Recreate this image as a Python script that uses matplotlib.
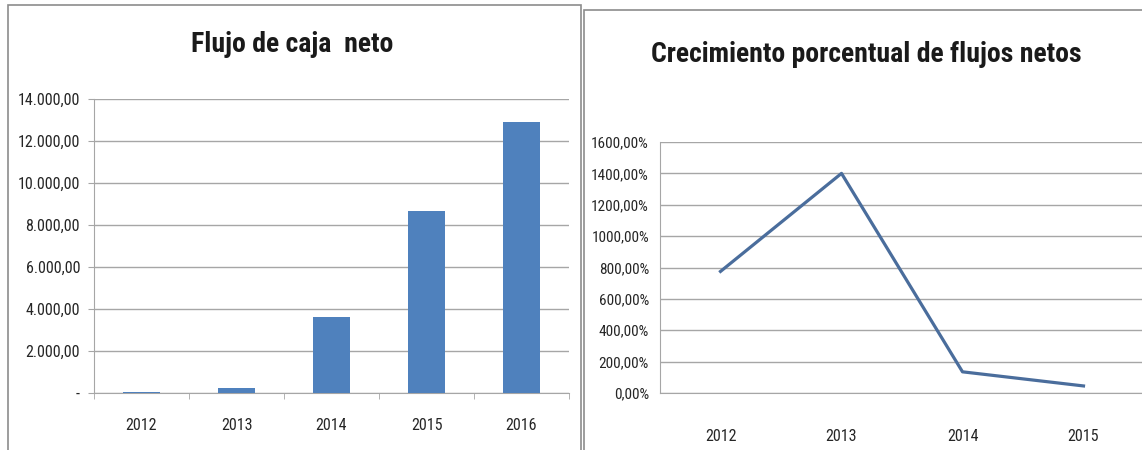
import matplotlib
matplotlib.use("Agg")
import matplotlib.pyplot as plt
from matplotlib import font_manager
from matplotlib.patches import Rectangle
from matplotlib.ticker import FuncFormatter, FixedLocator

# datos
years_flujo = ['2012', '2013', '2014', '2015', '2016']
flujo_neto = [27, 241, 3620, 8670, 12900]

years_crec = ['2012', '2013', '2014', '2015']
crecimiento = [775, 1400, 135, 45]

bar_color = '#4f81bd'
line_color = '#4a6d9c'
grid_color = '#a6a6a6'
text_color = '#262626'

# fuente estrecha tipo Arial Narrow si existe
available = set(f.name for f in font_manager.fontManager.ttflist)
narrow = [n for n in ['Liberation Sans Narrow', 'Roboto Condensed', 'Archivo Narrow',
                      'PT Sans Narrow', 'Open Sans Condensed', 'Asap Condensed']
          if n in available]
font = narrow[:1] + ['DejaVu Sans']
plt.rcParams['font.family'] = font

W, H = 1142, 450
fig = plt.figure(figsize=(W / 100, H / 100), dpi=100)

def px(x0, y0, x1, y1):
    # caja en pixeles (origen arriba-izquierda) -> fraccion de figura
    return [x0 / W, 1 - y1 / H, (x1 - x0) / W, (y1 - y0) / H]

# marcos de los dos paneles
fig.patches.append(Rectangle((8 / W, -0.1), (581 - 8) / W, 1.1 - 5 / H,
                             transform=fig.transFigure, fill=False,
                             edgecolor='#8c8c8c', lw=1.2))
fig.patches.append(Rectangle((584 / W, -0.1), 0.6, 1.1 - 10 / H,
                             transform=fig.transFigure, fill=False,
                             edgecolor='#8c8c8c', lw=1.2))

def thousands(v, pos):
    if v == 0:
        return '-'
    s = '{:,.2f}'.format(v)
    return s.replace(',', 'X').replace('.', ',').replace('X', '.')

def percent(v, pos):
    return '{:.2f}%'.format(v).replace('.', ',')

# ---- Flujo de caja neto ----
ax1 = fig.add_axes(px(94, 99, 569, 393))
x1 = range(len(years_flujo))
ax1.bar(x1, flujo_neto, width=0.39, color=bar_color, zorder=3)
ax1.set_xlim(-0.5, len(years_flujo) - 0.5)
ax1.set_ylim(0, 14000)
ax1.set_yticks(range(0, 14001, 2000))
ax1.yaxis.set_major_formatter(FuncFormatter(thousands))
ax1.set_xticks(list(x1))
ax1.set_xticklabels(years_flujo)
ax1.xaxis.set_minor_locator(FixedLocator([i - 0.5 for i in range(len(years_flujo) + 1)]))
ax1.tick_params(axis='x', which='major', length=0, pad=18, labelsize=11.5, colors=text_color)
ax1.tick_params(axis='x', which='minor', length=4, color=grid_color)
ax1.tick_params(axis='y', length=4, color=grid_color, pad=6, labelsize=11.5, labelcolor=text_color)
ax1.grid(axis='y', color=grid_color, lw=1, zorder=0)
for s in ['top', 'right']:
    ax1.spines[s].set_visible(False)
for s in ['left', 'bottom']:
    ax1.spines[s].set_color(grid_color)
fig.text(292 / W, 1 - 45 / H, 'Flujo de caja  neto', ha='center', va='center',
         fontsize=20, fontweight='bold', color='#1a1a1a')

# ---- Crecimiento porcentual ----
ax2 = fig.add_axes(px(660, 142, 1144, 393))
x2 = range(len(years_crec))
ax2.plot(x2, crecimiento, color=line_color, lw=2.3, zorder=3)
ax2.set_xlim(-0.5, len(years_crec) - 0.5)
ax2.set_ylim(0, 1600)
ax2.set_yticks(range(0, 1601, 200))
ax2.yaxis.set_major_formatter(FuncFormatter(percent))
ax2.set_xticks(list(x2))
ax2.set_xticklabels(years_crec)
ax2.tick_params(axis='x', length=0, pad=26, labelsize=11.5, colors=text_color)
ax2.tick_params(axis='y', length=0, pad=8, labelsize=11, labelcolor=text_color)
ax2.grid(axis='y', color=grid_color, lw=1, zorder=0)
for s in ['top', 'right']:
    ax2.spines[s].set_visible(False)
for s in ['left', 'bottom']:
    ax2.spines[s].set_color(grid_color)
fig.text(866 / W, 1 - 55 / H, 'Crecimiento porcentual de flujos netos', ha='center', va='center',
         fontsize=20, fontweight='bold', color='#1a1a1a')

fig.savefig('out.png', dpi=100)
